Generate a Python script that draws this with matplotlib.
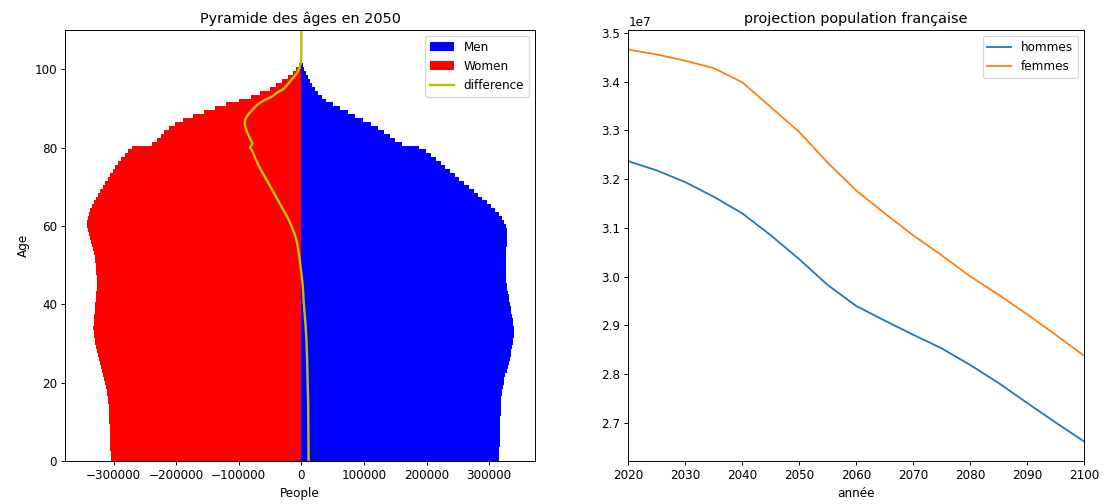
import numpy as np
import matplotlib
matplotlib.use("Agg")
import matplotlib.pyplot as plt

# Age pyramid 2050 (one value per age, 0..110)
ages = list(range(0, 111))

men = [316000, 316000, 316200, 316400, 316600, 316800, 317000, 317200, 317400, 317600,
       317800, 318000, 318300, 318600, 318900, 319200, 319700, 320400, 321300, 322300,
       323300, 324500, 326000, 327800, 329500, 331200, 332800, 334200, 335500, 336600,
       337600, 338400, 339000, 339300, 339200, 338600, 337500, 336300, 335200, 334300,
       333500, 332500, 331300, 330200, 329300, 328300, 327400, 326800, 327400, 327200,
       327000, 327000, 327100, 327200, 327400, 327800, 328300, 328600, 328500, 328000,
       327000, 324000, 320000, 315000, 309000, 302500, 296000, 289000, 282000, 275000,
       267500, 260000, 252500, 245000, 237500, 230000, 222500, 215000, 207000, 198500,
       188000, 160000, 150000, 141000, 132000, 122000, 111000, 99000, 86000, 74000,
       62000, 51000, 40000, 33000, 27000, 22000, 17500, 13500, 10000, 7000,
       4500, 2700, 1500, 500, 0, 0, 0, 0, 0, 0, 0]

women = [304500, 304500, 304700, 305000, 305200, 305500, 305700, 306000, 306200, 306500,
         306800, 307000, 307300, 307700, 308000, 308400, 309000, 309900, 311000, 312100,
         313300, 314600, 316300, 318200, 320100, 321900, 323700, 325300, 326800, 328100,
         329300, 330400, 331300, 332000, 332300, 332100, 331500, 330800, 330200, 329800,
         329500, 328900, 328100, 327400, 326900, 326300, 326100, 326200, 327400, 328000,
         328600, 329400, 330300, 331200, 332400, 333800, 335800, 337600, 339500, 341500,
         343000, 342800, 341500, 340000, 337500, 334500, 331500, 328000, 324500, 321000,
         317000, 313000, 309000, 305000, 301000, 297000, 292500, 288000, 282600, 276500,
         270000, 238000, 231000, 225000, 219000, 211000, 201500, 189000, 173000, 156000,
         138000, 121000, 100000, 80000, 66000, 50000, 40000, 31000, 22000, 14000,
         8500, 4500, 2000, 700, 200, 0, 0, 0, 0, 0, 0]

# Projection of the French population (every 5 years)
years = [2020, 2025, 2030, 2035, 2040, 2045, 2050, 2055, 2060,
         2065, 2070, 2075, 2080, 2085, 2090, 2095, 2100]
hommes = [3.237e7, 3.218e7, 3.194e7, 3.164e7, 3.130e7, 3.085e7, 3.036e7, 2.983e7, 2.940e7,
          2.910e7, 2.881e7, 2.853e7, 2.819e7, 2.782e7, 2.741e7, 2.701e7, 2.662e7]
femmes = [3.466e7, 3.456e7, 3.443e7, 3.428e7, 3.399e7, 3.348e7, 3.297e7, 3.234e7, 3.177e7,
          3.130e7, 3.085e7, 3.044e7, 3.001e7, 2.963e7, 2.923e7, 2.881e7, 2.838e7]

plt.rcParams['font.family'] = 'DejaVu Sans'

DPI = 86.4
fig = plt.figure(figsize=(1119 / DPI, 504 / DPI), dpi=DPI)

# left chart: pyramid
ax1 = fig.add_axes([0.0584, 0.0853, 0.4198, 0.8552])
men_arr = np.array(men)
women_arr = np.array(women)
b_men = ax1.barh(ages, men_arr, height=1, color='b', linewidth=0, label='Men')
b_women = ax1.barh(ages, -women_arr, height=1, color='r', linewidth=0, label='Women')
l_diff, = ax1.plot(men_arr - women_arr, ages, color='y', linewidth=2, label='difference')
ax1.set_ylim(0, 110)
ax1.set_title('Pyramide des âges en 2050')
ax1.set_xlabel('People')
ax1.set_ylabel('Age')
ax1.legend(handles=[b_men, b_women, l_diff], loc='upper right')

# right chart: projection
ax2 = fig.add_axes([0.5615, 0.0853, 0.4072, 0.8552])
ax2.plot(years, hommes, color='#1f77b4', label='hommes')
ax2.plot(years, femmes, color='#ff7f0e', label='femmes')
ax2.set_xlim(2020, 2100)
ax2.set_xticks(range(2020, 2101, 10))
ax2.set_title('projection population française')
ax2.set_xlabel('année')
ax2.legend(loc='upper right')

fig.savefig('out.png', dpi=DPI)
